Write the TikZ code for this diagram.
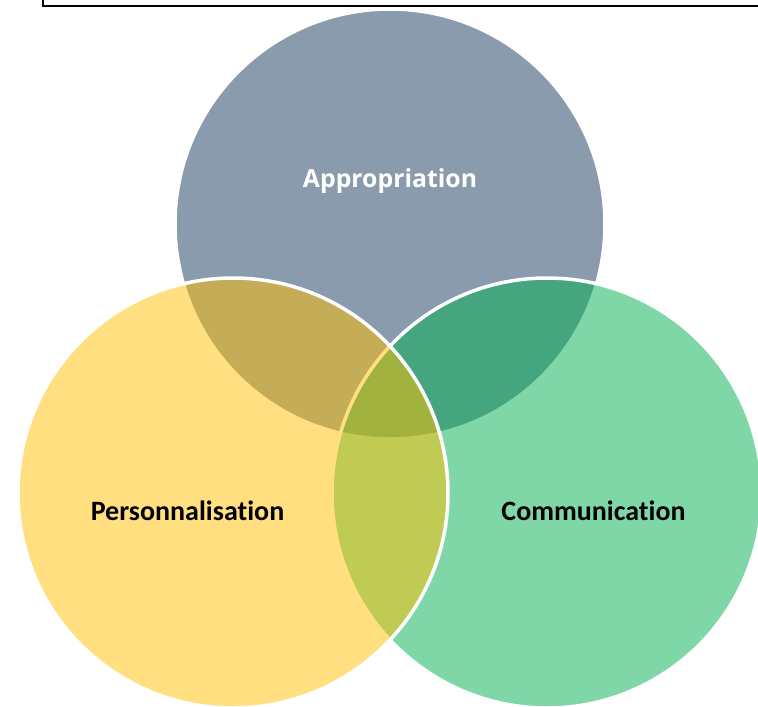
\documentclass[tikz,border=0pt]{standalone}
\usepackage{fontspec}
\setmainfont{Carlito}[Ligatures=NoCommon]
\newfontfamily\opensans{Open Sans}
\definecolor{topgray}{RGB}{138,155,173}
\definecolor{ogreen}{RGB}{0,176,80}
\definecolor{oyellow}{RGB}{255,192,0}
\begin{document}
\begin{tikzpicture}[x=1pt,y=-1pt,
  venn/.style={circle, minimum size=430pt, inner sep=0pt, draw=white, line width=3.5pt, text opacity=1},
  lbl/.style={font=\fontsize{28}{33}\selectfont\bfseries, inner sep=0pt}]
\useasboundingbox (0,0) rectangle (758,707);
\clip (0,0) rectangle (758,707);
\draw[line width=2pt] (43,-10) rectangle (775,6);
\node[venn, fill=topgray] (top) at (390,224) {};
\node[venn, fill=ogreen, fill opacity=0.5] (right) at (547,493) {};
\node[venn, fill=oyellow, fill opacity=0.5] (left) at (233,493) {};
\node[lbl, font=\opensans\fontsize{24.8}{29}\selectfont\bfseries, text=white] (ta) at (390,181) {Appropriation};
\node[lbl] (tl) at (187.5,511) {Personnalisation};
\node[lbl] (tr) at (593.5,511) {Communication};
\end{tikzpicture}
\end{document}
